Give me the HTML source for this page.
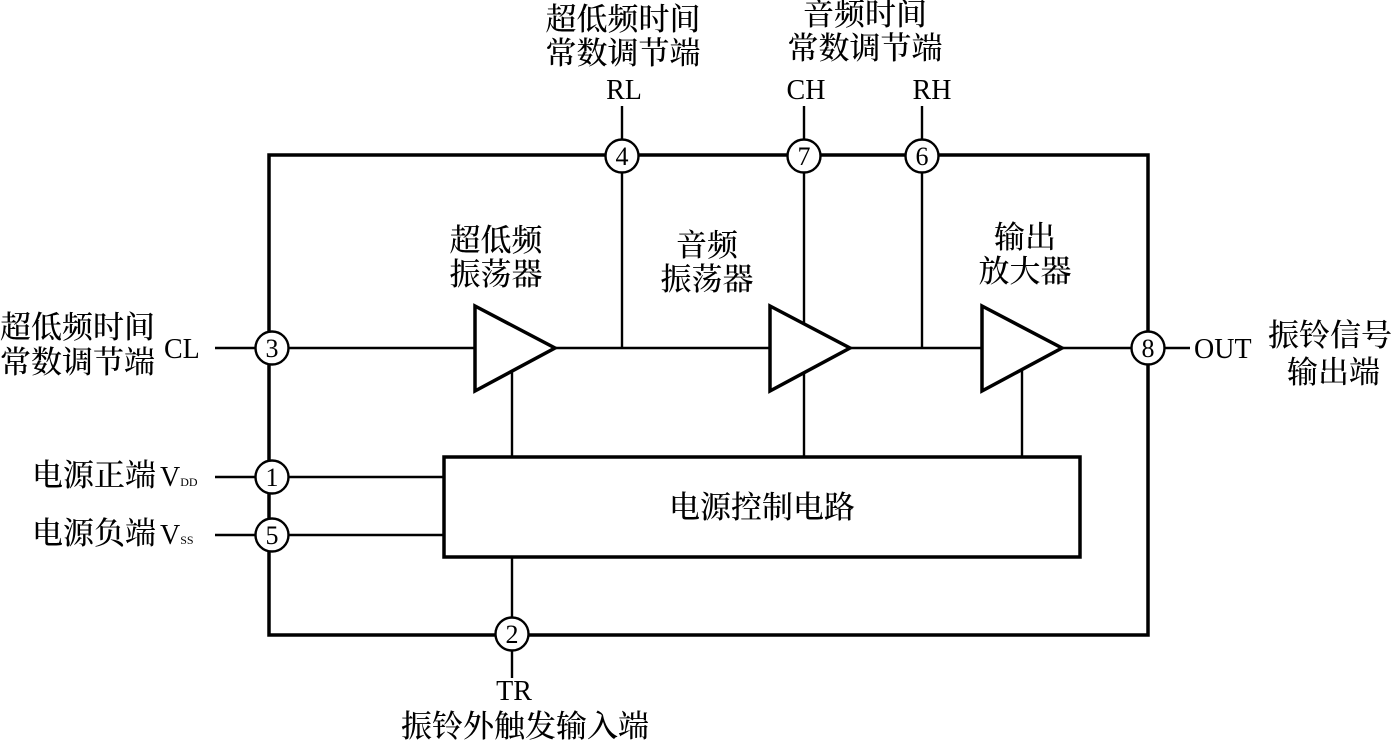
<!DOCTYPE html>
<html><head><meta charset="utf-8"><style>
body{margin:0;background:#fff;}
svg text{font-family:"Liberation Serif","Noto Serif CJK SC",serif;fill:#000;}
.c{font-weight:500;}
</style></head><body>
<svg width="1396" height="742" viewBox="0 0 1396 742" xmlns="http://www.w3.org/2000/svg">
<g stroke="#000" fill="none">
<rect x="269" y="155" width="879" height="480" stroke-width="3.5"/>
<rect x="444" y="457" width="636" height="100" stroke-width="3.5"/>
<g stroke-width="2.4">
<line x1="215" y1="348" x2="474" y2="348"/>
<line x1="555" y1="348" x2="770" y2="348"/>
<line x1="851" y1="348" x2="981" y2="348"/>
<line x1="1063" y1="348" x2="1190" y2="348"/>
<line x1="622" y1="106" x2="622" y2="348"/>
<line x1="804" y1="106" x2="804" y2="457"/>
<line x1="922" y1="106" x2="922" y2="348"/>
<line x1="512" y1="370" x2="512" y2="457"/>
<line x1="1022" y1="370" x2="1022" y2="457"/>
<line x1="512" y1="557" x2="512" y2="678"/>
<line x1="215" y1="477" x2="444" y2="477"/>
<line x1="215" y1="535" x2="444" y2="535"/>
</g>
<g stroke-width="3.5" fill="#fff">
<polygon points="475,306 555,348 475,391"/>
<polygon points="770,306 850,348 770,391"/>
<polygon points="982,306 1062,348 982,391"/>
</g>
<g stroke-width="2.4" fill="#fff">
<circle cx="622" cy="156" r="16.5"/><circle cx="804" cy="156" r="16.5"/><circle cx="922" cy="156" r="16.5"/>
<circle cx="272" cy="348" r="16.5"/><circle cx="1148" cy="348" r="16.5"/>
<circle cx="272" cy="477" r="16.5"/><circle cx="272" cy="535" r="16.5"/>
<circle cx="512" cy="634" r="16.5"/>
</g>
</g>
<g font-size="26" text-anchor="middle">
<text x="622" y="165">4</text><text x="804" y="165">7</text><text x="922" y="165">6</text>
<text x="272" y="357">3</text><text x="1148" y="357">8</text>
<text x="272" y="486">1</text><text x="272" y="544">5</text><text x="512" y="643">2</text>
</g>
<g font-size="28">
<text x="624" y="99" text-anchor="middle">RL</text>
<text x="806" y="99" text-anchor="middle">CH</text>
<text x="932" y="99" text-anchor="middle">RH</text>
<text x="164" y="358">CL</text>
<text x="1194" y="358">OUT</text>
<text x="514" y="700" text-anchor="middle">TR</text>
<text x="160" y="486">V<tspan font-size="12">DD</tspan></text>
<text x="160" y="544">V<tspan font-size="12">SS</tspan></text>
</g>
<g font-size="31" class="c">
<text x="623" y="30" text-anchor="middle">超低频时间</text>
<text x="623" y="64" text-anchor="middle">常数调节端</text>
<text x="865" y="25" text-anchor="middle">音频时间</text>
<text x="865" y="59" text-anchor="middle">常数调节端</text>
<text x="496" y="251" text-anchor="middle">超低频</text>
<text x="496" y="285" text-anchor="middle">振荡器</text>
<text x="707" y="256" text-anchor="middle">音频</text>
<text x="707" y="290" text-anchor="middle">振荡器</text>
<text x="1025" y="248" text-anchor="middle">输出</text>
<text x="1025" y="282" text-anchor="middle">放大器</text>
<text x="0" y="338">超低频时间</text>
<text x="0" y="373">常数调节端</text>
<text x="32" y="486">电源正端</text>
<text x="32" y="544">电源负端</text>
<text x="1268" y="346">振铃信号</text>
<text x="1287" y="383">输出端</text>
<text x="762" y="518" text-anchor="middle">电源控制电路</text>
<text x="525" y="737" text-anchor="middle">振铃外触发输入端</text>
</g>
</svg>
</body></html>
